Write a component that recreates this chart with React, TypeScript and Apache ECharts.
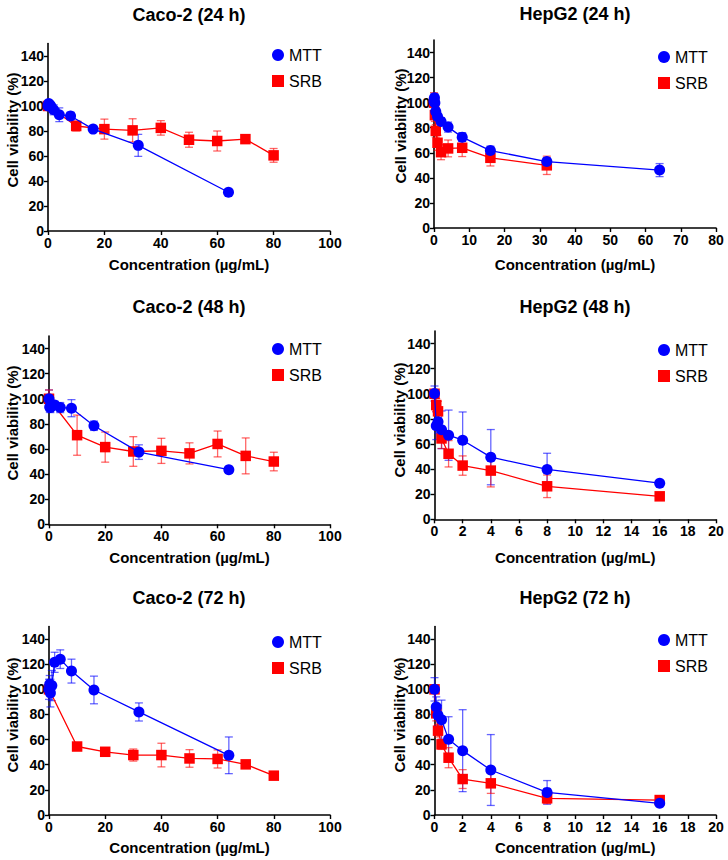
import React, { useEffect, useRef } from "react";
import * as echarts from "echarts";

// ---------- DATA ----------
const cacoMttConc = [0, 0.25, 0.5, 1, 2, 4, 8, 16, 32, 64];
const cacoSrbConc = [0, 10, 20, 30, 40, 50, 60, 70, 80];
const hep24MttConc = [0, 0.125, 0.25, 0.5, 1, 2, 4, 8, 16, 32, 64];
const hep24SrbConc = [0, 0.25, 0.5, 1, 2, 4, 8, 16, 32];
const hepConc = [0, 0.125, 0.25, 0.5, 1, 2, 4, 8, 16];

const caco24Mtt = [100, 102, 101, 100, 97, 93, 92, 81.5, 68.5, 31];
const caco24MttErr = [3, 2, 3, 3, 4, 5.5, 3, 1, 8.8, 1];
const caco24Srb = [100, 84, 81.5, 80.5, 82.5, 73, 72, 73.5, 60.5];
const caco24SrbErr = [3, 4, 8, 9.3, 5.8, 6, 8, 2.8, 5.5];

const caco48Mtt = [100, 93.5, 93, 95, 95, 93, 92.5, 78.5, 57.5, 43.5];
const caco48MttErr = [7, 4, 4, 3, 3, 4, 6.8, 3.7, 5.8, 1];
const caco48Srb = [100, 71, 61.5, 58, 58.5, 56.5, 64, 54.5, 50];
const caco48SrbErr = [7, 16, 12, 11.8, 10, 8.4, 10.3, 14.3, 7.4];

const caco72Mtt = [100, 104, 97, 103, 121.5, 124, 114.5, 99.5, 82, 47.5];
const caco72MttErr = [8, 7, 11, 12, 8, 7.4, 9.5, 11, 7.2, 14.6];
const caco72Srb = [100, 54.5, 50.3, 47.7, 47.7, 45, 44.6, 40.3, 31.3];
const caco72SrbErr = [3, 2, 1.5, 4.8, 9.4, 7, 7.2, 1.5, 3];

const hep24Mtt = [101, 104, 100, 93, 89, 85, 80.5, 72.5, 61.8, 53, 46.2];
const hep24MttErr = [3, 3, 3, 3, 2, 3, 4, 3.5, 3.5, 3, 5.2];
const hep24Srb = [100, 90, 77.5, 68, 60.5, 63.5, 64, 56, 50];
const hep24SrbErr = [8, 5, 5, 6, 6, 6.7, 7, 6.5, 7.3];

const hep48Mtt = [100.2, 74.5, 77.7, 71.3, 67, 63, 49.5, 39.7, 28.8];
const hep48MttErr = [6, 11, 9, 15, 20, 22.5, 22, 12.9, 1.5];
const hep48Srb = [100, 91, 86, 64.4, 52.2, 42.8, 38.8, 26.3, 18.3];
const hep48SrbErr = [3, 5, 8, 8, 10.5, 7.7, 13, 9, 1.5];

const hep72Mtt = [100, 86, 79.3, 75.8, 60.2, 51.2, 35.8, 18, 9.3];
const hep72MttErr = [9.3, 8, 8, 15.6, 18, 32.6, 28.2, 9.4, 1.5];
const hep72Srb = [100, 80.9, 67.1, 56.2, 45.6, 28.6, 25.2, 13.3, 11.9];
const hep72SrbErr = [3, 6, 5, 4, 8, 7.5, 8, 4.2, 2];

const titles = ["Caco-2 (24 h)", "HepG2 (24 h)", "Caco-2 (48 h)", "HepG2 (48 h)", "Caco-2 (72 h)", "HepG2 (72 h)"];
const yTicks = [0, 20, 40, 60, 80, 100, 120, 140];
const yTitle = "Cell viability (%)";
const xTitle = "Concentration (µg/mL)";
const seriesNames = ["MTT", "SRB"];

// ---------- LAYOUT ----------
const FONT = "'Liberation Sans', Arial, Helvetica, sans-serif";
const BLUE = "#0000FF";
const RED = "#FF0000";

type Panel = {
  left: number; top: number; bottom: number; width: number;
  xMax: number; xInterval: number;
  mttX: number[]; mtt: number[]; mttErr: number[];
  srbX: number[]; srb: number[]; srbErr: number[];
  titleX: number; titleY: number; yTitleX: number; yTitleY: number; xTitleY: number;
  legX: number; legY: number;
};

const panels: Panel[] = [
  { left: 48, top: 43.5, bottom: 231, width: 282, xMax: 100, xInterval: 20,
    mttX: cacoMttConc, mtt: caco24Mtt, mttErr: caco24MttErr, srbX: cacoSrbConc, srb: caco24Srb, srbErr: caco24SrbErr,
    titleX: 189, titleY: 15, yTitleX: 12, yTitleY: 130, xTitleY: 264, legX: 272, legY: 47 },
  { left: 434, top: 40, bottom: 228, width: 282, xMax: 80, xInterval: 10,
    mttX: hep24MttConc, mtt: hep24Mtt, mttErr: hep24MttErr, srbX: hep24SrbConc, srb: hep24Srb, srbErr: hep24SrbErr,
    titleX: 575, titleY: 13.5, yTitleX: 400, yTitleY: 126, xTitleY: 264, legX: 658, legY: 49 },
  { left: 49, top: 336, bottom: 524.3, width: 281, xMax: 100, xInterval: 20,
    mttX: cacoMttConc, mtt: caco48Mtt, mttErr: caco48MttErr, srbX: cacoSrbConc, srb: caco48Srb, srbErr: caco48SrbErr,
    titleX: 189, titleY: 306.5, yTitleX: 12, yTitleY: 423, xTitleY: 557, legX: 272, legY: 341 },
  { left: 434.5, top: 331, bottom: 519.3, width: 281.5, xMax: 20, xInterval: 2,
    mttX: hepConc, mtt: hep48Mtt, mttErr: hep48MttErr, srbX: hepConc, srb: hep48Srb, srbErr: hep48SrbErr,
    titleX: 575, titleY: 306.5, yTitleX: 399, yTitleY: 420, xTitleY: 557, legX: 658, legY: 342 },
  { left: 49, top: 626.5, bottom: 815, width: 281, xMax: 100, xInterval: 20,
    mttX: cacoMttConc, mtt: caco72Mtt, mttErr: caco72MttErr, srbX: cacoSrbConc, srb: caco72Srb, srbErr: caco72SrbErr,
    titleX: 189, titleY: 598, yTitleX: 12, yTitleY: 715, xTitleY: 847, legX: 272, legY: 634 },
  { left: 434.5, top: 626.5, bottom: 815, width: 281.5, xMax: 20, xInterval: 2,
    mttX: hepConc, mtt: hep72Mtt, mttErr: hep72MttErr, srbX: hepConc, srb: hep72Srb, srbErr: hep72SrbErr,
    titleX: 575, titleY: 598, yTitleX: 399, yTitleY: 715, xTitleY: 847, legX: 658, legY: 632 },
];

function errSeries(name: string, idx: number, xs: number[], ys: number[], es: number[], color: string) {
  return {
    type: "custom",
    name,
    xAxisIndex: idx,
    yAxisIndex: idx,
    z: 2,
    silent: true,
    encode: { x: 0, y: [1, 2] },
    data: xs.map((x, i) => [x, ys[i] - es[i], ys[i] + es[i]]),
    renderItem: (params: any, api: any) => {
      const x = api.value(0);
      const lo = api.coord([x, api.value(1)]);
      const hi = api.coord([x, api.value(2)]);
      const w = 4;
      const style = { stroke: color, lineWidth: 1.3, opacity: 0.6 };
      return {
        type: "group",
        children: [
          { type: "line", shape: { x1: lo[0], y1: lo[1], x2: hi[0], y2: hi[1] }, style },
          { type: "line", shape: { x1: lo[0] - w, y1: lo[1], x2: lo[0] + w, y2: lo[1] }, style },
          { type: "line", shape: { x1: hi[0] - w, y1: hi[1], x2: hi[0] + w, y2: hi[1] }, style },
        ],
      };
    },
  };
}

function buildOption() {
  const grid: any[] = [];
  const xAxis: any[] = [];
  const yAxis: any[] = [];
  const series: any[] = [];
  const legend: any[] = [];
  const graphic: any[] = [];
  const axisLine = { show: true, lineStyle: { color: "#000", width: 1.6 } };
  const axisTick = { show: true, inside: false, length: 4, lineStyle: { color: "#000", width: 1.4 } };
  const labelStyle = { color: "#000", fontFamily: FONT, fontWeight: "bold", fontSize: 14 };

  panels.forEach((p, i) => {
    grid.push({ left: p.left, top: p.top, width: p.width, height: p.bottom - p.top, containLabel: false });
    xAxis.push({
      type: "value", gridIndex: i, min: 0, max: p.xMax, interval: p.xInterval,
      axisLine, axisTick, splitLine: { show: false },
      axisLabel: { ...labelStyle, margin: 5 },
    });
    yAxis.push({
      type: "value", gridIndex: i, min: 0, max: 150, interval: 10,
      axisLine, splitLine: { show: false },
      axisTick: { ...axisTick, customValues: yTicks },
      axisLabel: { ...labelStyle, margin: 4, customValues: yTicks },
    });
    series.push(errSeries("MTT err", i, p.mttX, p.mtt, p.mttErr, BLUE));
    series.push(errSeries("SRB err", i, p.srbX, p.srb, p.srbErr, RED));
    series.push({
      type: "line", name: seriesNames[0], xAxisIndex: i, yAxisIndex: i, z: 4,
      data: p.mttX.map((x, k) => [x, p.mtt[k]]),
      symbol: "circle", symbolSize: 11,
      itemStyle: { color: BLUE }, lineStyle: { color: BLUE, width: 1.3 },
    });
    series.push({
      type: "line", name: seriesNames[1], xAxisIndex: i, yAxisIndex: i, z: 3,
      data: p.srbX.map((x, k) => [x, p.srb[k]]),
      symbol: "rect", symbolSize: 10.5,
      itemStyle: { color: RED }, lineStyle: { color: RED, width: 1.3 },
    });
    legend.push({
      left: p.legX, top: p.legY, orient: "vertical", itemWidth: 12, itemHeight: 12, itemGap: 10,
      padding: 0,
      selectedMode: false,
      textStyle: { color: "#000", fontFamily: FONT, fontSize: 16 },
      data: [{ name: seriesNames[0], icon: "circle" }, { name: seriesNames[1], icon: "rect" }],
    });
    graphic.push({
      type: "text", x: p.titleX, y: p.titleY,
      style: { text: titles[i], fill: "#000", font: `bold 18px ${FONT}`, align: "center", verticalAlign: "middle" },
    });
    graphic.push({
      type: "text", x: p.yTitleX, y: p.yTitleY, rotation: Math.PI / 2,
      style: { text: yTitle, fill: "#000", font: `bold 15px ${FONT}`, align: "center", verticalAlign: "middle" },
    });
    graphic.push({
      type: "text", x: p.left + p.width / 2, y: p.xTitleY,
      style: { text: xTitle, fill: "#000", font: `bold 15px ${FONT}`, align: "center", verticalAlign: "middle" },
    });
  });

  return {
    animation: false,
    backgroundColor: "#fff",
    grid, xAxis, yAxis, series, legend, graphic,
  };
}

export default function App() {
  const ref = useRef<HTMLDivElement>(null);
  useEffect(() => {
    if (!ref.current) return;
    const chart = echarts.init(ref.current, undefined, { renderer: "svg" });
    chart.setOption(buildOption() as any);
    return () => chart.dispose();
  }, []);
  return (
    <div
      ref={ref}
      style={{ position: "fixed", left: 0, top: 0, width: 728, height: 860, background: "#fff" }}
    />
  );
}
